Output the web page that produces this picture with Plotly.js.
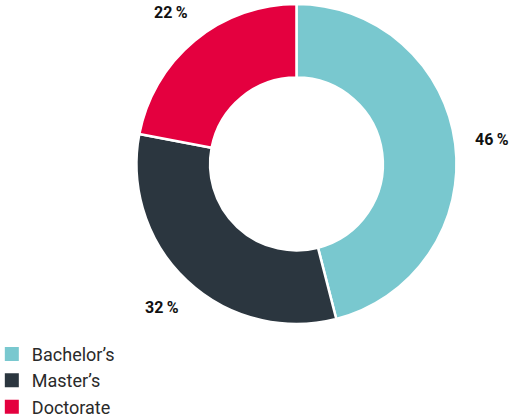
<!DOCTYPE html>
<html><head><meta charset="utf-8">
<script src="https://cdn.plot.ly/plotly-3.0.1.min.js"></script>
<style>html,body{margin:0;padding:0;background:#fff}#chart{width:511px;height:419px}</style>
</head><body><div id="chart"></div>
<script>
const categories = ["Bachelor’s", "Master’s", "Doctorate"];
const values = [46, 32, 22];
const valueLabels = ["46\u2009%", "32\u2009%", "22\u2009%"];
const colors = ["#79c8cf", "#2b363f", "#e4003f"];

const W = 511, H = 419;
const dom = {x: [0.2671, 0.8933], y: [0.2267, 0.9905]};

// value label positions derived from the slice mid-angles
const total = values.reduce((a, b) => a + b, 0);
const Rpx = Math.min((dom.x[1] - dom.x[0]) * W, (dom.y[1] - dom.y[0]) * H) / 2;
const cxPx = (dom.x[0] + dom.x[1]) / 2 * W;
const cyPx = (dom.y[0] + dom.y[1]) / 2 * H;
let cum = 0;
const annotations = values.map((v, i) => {
  const mid = (cum + v / 2) / total * 2 * Math.PI;
  cum += v;
  const r = Rpx * 1.23;
  const px = cxPx + r * Math.sin(mid);
  const py = cyPx + r * Math.cos(mid);
  return {
    xref: "paper", yref: "paper", x: px / W, y: py / H,
    text: "<b>" + valueLabels[i] + "</b>", showarrow: false,
    xanchor: "center", yanchor: "middle",
    font: {family: "Roboto, Arial, sans-serif", size: 16, color: "#111111"}
  };
});

const pie = {
  type: "pie",
  labels: categories,
  values: values,
  textinfo: "none",
  hoverinfo: "label+percent",
  sort: false,
  direction: "clockwise",
  rotation: 0,
  hole: 0.54,
  showlegend: false,
  marker: {colors: colors, line: {color: "#ffffff", width: 2.5}},
  domain: dom
};
// legend entries (square swatches) for each category
const legendTraces = categories.map((c, i) => ({
  type: "scatter", mode: "markers", x: [null], y: [null], name: c,
  marker: {symbol: "square", size: 14, color: colors[i]},
  hoverinfo: "skip", showlegend: true
}));

const layout = {
  width: W, height: H,
  margin: {l: 0, r: 0, t: 0, b: 0, autoexpand: false},
  paper_bgcolor: "#ffffff",
  plot_bgcolor: "rgba(0,0,0,0)",
  xaxis: {visible: false}, yaxis: {visible: false},
  showlegend: true,
  annotations: annotations,
  legend: {x: -0.016, y: -0.016, xanchor: "left", yanchor: "bottom", orientation: "v",
           font: {family: "Roboto, Arial, sans-serif", size: 18, color: "#2a2a2a"},
           itemwidth: 30, tracegroupgap: 0, bgcolor: "rgba(0,0,0,0)"}
};
Plotly.newPlot("chart", [pie].concat(legendTraces), layout, {displayModeBar: false, staticPlot: true});
</script></body></html>
